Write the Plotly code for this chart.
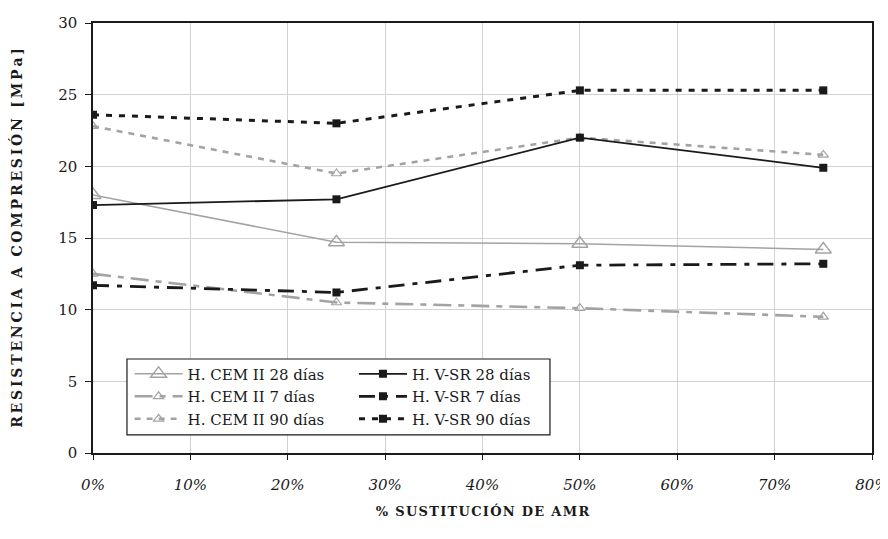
import plotly.graph_objects as go

# % sustitución de AMR
sustitucion = [0.0, 0.25, 0.50, 0.75]

# resistencia a compresión [MPa]
cem_28 = [18.0, 14.7, 14.6, 14.2]
cem_7 = [12.5, 10.5, 10.1, 9.5]
cem_90 = [22.8, 19.5, 22.0, 20.8]
vsr_28 = [17.3, 17.7, 22.0, 19.9]
vsr_7 = [11.7, 11.2, 13.1, 13.2]
vsr_90 = [23.6, 23.0, 25.3, 25.3]

FONT = "DejaVu Serif"
GRAY = "#a3a3a3"
BLACK = "#1a1a1a"


def spaced(s, sep="\u200a"):
    return sep.join(s)


fig = go.Figure()

# columna izquierda de la leyenda (CEM II)
fig.add_trace(go.Scatter(x=sustitucion, y=cem_28, name="H. CEM II 28 días", legend="legend",
                         mode="lines+markers", line=dict(color=GRAY, width=1.6),
                         marker=dict(symbol="triangle-up-open", size=14, color=GRAY, line=dict(width=1.4))))
fig.add_trace(go.Scatter(x=sustitucion, y=cem_7, name="H. CEM II 7 días", legend="legend",
                         mode="lines+markers", line=dict(color=GRAY, width=2.6, dash="18px,7px,6px,7px"),
                         marker=dict(symbol="triangle-up-open", size=9, color=GRAY, line=dict(width=1.2))))
fig.add_trace(go.Scatter(x=sustitucion, y=cem_90, name="H. CEM II 90 días", legend="legend",
                         mode="lines+markers", line=dict(color=GRAY, width=2.6, dash="6px,6px"),
                         marker=dict(symbol="triangle-up-open", size=9, color=GRAY, line=dict(width=1.2))))

# columna derecha (V-SR)
fig.add_trace(go.Scatter(x=sustitucion, y=vsr_28, name="H. V-SR 28 días", legend="legend2",
                         mode="lines+markers", line=dict(color=BLACK, width=1.8),
                         marker=dict(symbol="square", size=8, color=BLACK)))
fig.add_trace(go.Scatter(x=sustitucion, y=vsr_7, name="H. V-SR 7 días", legend="legend2",
                         mode="lines+markers", line=dict(color=BLACK, width=2.8, dash="16px,8px,5px,8px"),
                         marker=dict(symbol="square", size=8, color=BLACK)))
fig.add_trace(go.Scatter(x=sustitucion, y=vsr_90, name="H. V-SR 90 días", legend="legend2",
                         mode="lines+markers", line=dict(color=BLACK, width=3, dash="6px,7px"),
                         marker=dict(symbol="square", size=8, color=BLACK)))

# caja de la leyenda
fig.add_shape(type="rect", xref="paper", yref="paper", x0=0.0436, x1=0.5866, y0=0.042, y1=0.2186,
              line=dict(color=BLACK, width=1.2), fillcolor="white", layer="above")

leg = dict(bgcolor="rgba(0,0,0,0)", borderwidth=0, font=dict(family=FONT, size=15, color=BLACK),
           itemwidth=48, tracegroupgap=0, xanchor="left", yanchor="top")
fig.update_layout(
    legend=dict(leg, x=0.047, y=0.222),
    legend2=dict(leg, x=0.335, y=0.222),
)

# la página añade 8 px de margen al cuerpo: figura de 880x531
fig.update_layout(
    width=880, height=531,
    margin=dict(l=85, r=16, t=15, b=86),
    plot_bgcolor="white", paper_bgcolor="white",
    font=dict(family=FONT, size=15, color=BLACK),
    xaxis=dict(range=[0, 0.8], dtick=0.1, tickformat=".0%", showgrid=True, gridcolor="#d2d2d2",
               gridwidth=1.2, zeroline=False, showline=True, linecolor=BLACK, linewidth=1.5,
               mirror=True, ticks="outside", ticklen=5, tickcolor=BLACK, ticklabelstandoff=12,
               automargin=False, ticklabeloverflow="allow",
               tickfont=dict(family=FONT, size=15, style="italic"),
               title=dict(text="<b>" + spaced("% SUSTITUCIÓN DE AMR") + "</b>",
                          font=dict(family=FONT, size=13), standoff=14)),
    yaxis=dict(range=[0, 30], dtick=5, showgrid=True, gridcolor="#d2d2d2", gridwidth=1.2,
               zeroline=False, showline=True, linecolor=BLACK, linewidth=1.5, mirror=True,
               ticks="outside", ticklen=6, tickcolor=BLACK, ticklabelstandoff=5,
               automargin=False,
               tickfont=dict(family=FONT, size=15),
               title=dict(text="<b>" + spaced("RESISTENCIA A COMPRESIÓN [MPa]", "\u2009") + "</b>",
                          font=dict(family=FONT, size=14), standoff=32)),
)

fig.write_html("out.html")
